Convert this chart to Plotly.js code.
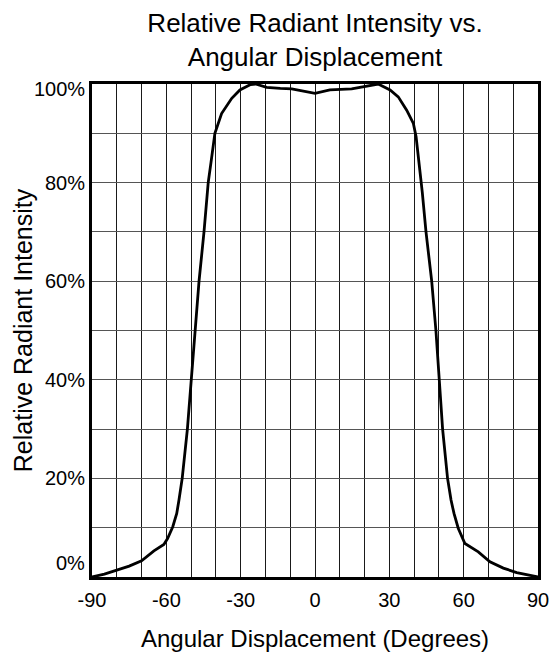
<!DOCTYPE html>
<html>
<head>
<meta charset="utf-8">
<script src="https://cdn.plot.ly/plotly-3.0.1.min.js"></script>
<style>html,body{margin:0;padding:0;background:#fff;}#chart{width:553px;height:652px;}</style>
</head>
<body>
<div id="chart"></div>
<script>
// Angular displacement (degrees)
const angleDeg = [-90, -85, -80, -75, -70, -65, -61, -59.5, -57.4, -55.8, -54.9, -53.6, -51.5, -49.9, -48.4, -46.8, -44.8, -43.1, -42, -40.4, -37.7, -33.6, -30.3, -26, -24, -19.5, -14, -9.4, 0, 6, 14.8, 21, 25.5, 30.3, 33.6, 37, 39.7, 40.8, 42.1, 43.3, 44.8, 47.1, 48.8, 50, 51.5, 53.5, 54.9, 56.1, 57.8, 60.5, 65.9, 70.6, 76, 81.4, 90];
// Relative radiant intensity (%)
const intensityPct = [0, 0.6, 1.4, 2.2, 3.3, 5.3, 6.6, 7.8, 10.2, 12.9, 15.6, 20, 30, 40, 50, 60, 70, 80, 84, 90, 94, 97.1, 98.8, 99.9, 100, 99.3, 99.1, 99, 98.1, 98.8, 99, 99.6, 100, 98.8, 97.4, 94.7, 92, 89.3, 83.9, 78, 70, 60, 50, 40, 30, 20, 15.6, 12.9, 9.9, 6.8, 5.1, 3.1, 1.8, 0.9, 0];

const xTickVals = [-90, -60, -30, 0, 30, 60, 90];
const xTickText = ['-90', '-60', '-30', '0', '30', '60', '90'];
const yTickVals = [0, 20, 40, 60, 80, 100];
const yTickText = ['0%', '20%', '40%', '60%', '80%', '100%'];

const font = 'Liberation Sans, Arial, Helvetica, sans-serif';

const yLabelAnnotations = yTickVals.map((v, i) => ({
  x: 0, xref: 'paper', y: v, yref: 'y',
  text: yTickText[i], showarrow: false,
  xanchor: 'right', yanchor: 'middle', xshift: -5,
  yshift: v === 0 ? 14 : (v === 100 ? -5 : 0),
  font: {family: font, size: 20, color: '#000'}
}));

const trace = {
  x: angleDeg, y: intensityPct, type: 'scatter', mode: 'lines',
  line: {color: '#000', width: 2.8}, hoverinfo: 'skip'
};

const layout = {
  width: 553, height: 652,
  margin: {l: 92, r: 15, t: 84, b: 75},
  paper_bgcolor: '#fff', plot_bgcolor: '#fff',
  showlegend: false,
  font: {family: font, color: '#000'},
  title: {
    text: 'Relative Radiant Intensity vs.<br>Angular Displacement',
    x: 0.5, xref: 'paper', xanchor: 'center',
    y: 1 - 32/652, yref: 'container', yanchor: 'top',
    font: {family: font, size: 26, color: '#000'}
  },
  xaxis: {
    range: [-90, 90], tickmode: 'array', tickvals: xTickVals, ticktext: xTickText,
    ticks: '', ticklabelstandoff: 3,
    tickfont: {family: font, size: 20, color: '#000'},
    showgrid: true, gridcolor: '#1a1a1a', gridwidth: 1,
    minor: {dtick: 10, tick0: 0, showgrid: true, gridcolor: '#1a1a1a', gridwidth: 1, ticks: ''},
    showline: true, linecolor: '#000', linewidth: 3, mirror: true,
    zeroline: false, fixedrange: true,
    title: {text: 'Angular Displacement (Degrees)', standoff: 30, font: {family: font, size: 24, color: '#000'}}
  },
  yaxis: {
    range: [0, 100], dtick: 10, tick0: 0, showticklabels: false, ticks: '',
    showgrid: true, gridcolor: '#555', gridwidth: 1,
    showline: true, linecolor: '#000', linewidth: 3, mirror: true,
    zeroline: false, fixedrange: true,
    title: {text: 'Relative Radiant Intensity', standoff: 50, font: {family: font, size: 25, color: '#000'}}
  },
  annotations: yLabelAnnotations
};

Plotly.newPlot('chart', [trace], layout, {displayModeBar: false, staticPlot: true});
</script>
</body>
</html>
